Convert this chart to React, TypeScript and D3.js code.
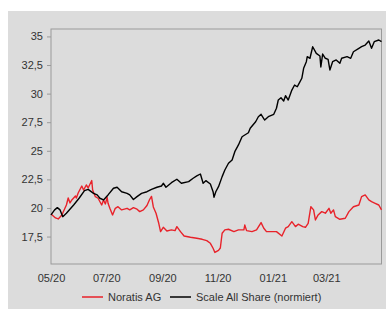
import React, { useEffect, useRef } from "react";
import * as d3 from "d3";

// Noratis AG share price (EUR)
const noratis: [string, number][] = [
  ["2020-05-01", 19.48], ["2020-05-06", 19.13], ["2020-05-09", 19.04], ["2020-05-13", 19.39],
  ["2020-05-18", 20.26], ["2020-05-20", 20.87], ["2020-05-22", 20.44], ["2020-05-24", 20.7],
  ["2020-05-28", 21.05], ["2020-05-29", 20.87], ["2020-05-31", 21.31], ["2020-06-04", 21.92],
  ["2020-06-06", 21.57], ["2020-06-09", 22.01], ["2020-06-11", 21.75], ["2020-06-15", 22.4],
  ["2020-06-16", 21.57], ["2020-06-19", 20.99], ["2020-06-22", 20.85], ["2020-06-26", 20.26],
  ["2020-06-28", 20.7], ["2020-06-30", 20.35], ["2020-07-02", 20.92], ["2020-07-03", 20.41],
  ["2020-07-05", 19.97], ["2020-07-08", 19.39], ["2020-07-11", 19.97], ["2020-07-14", 20.11],
  ["2020-07-18", 19.83], ["2020-07-24", 19.97], ["2020-07-27", 19.83], ["2020-07-31", 20.03],
  ["2020-08-04", 19.89], ["2020-08-07", 19.68], ["2020-08-11", 19.83], ["2020-08-15", 20.22],
  ["2020-08-18", 20.76], ["2020-08-20", 21.01], ["2020-08-22", 20.09], ["2020-08-25", 19.54],
  ["2020-08-28", 18.66], ["2020-08-30", 17.93], ["2020-09-02", 18.31], ["2020-09-06", 17.99],
  ["2020-09-11", 18.08], ["2020-09-15", 18.02], ["2020-09-17", 18.37], ["2020-09-21", 17.93],
  ["2020-09-25", 17.55], ["2020-10-02", 17.44], ["2020-10-09", 17.35], ["2020-10-15", 17.26],
  ["2020-10-20", 17.14], ["2020-10-24", 16.91], ["2020-10-27", 16.48], ["2020-10-29", 16.11],
  ["2020-11-02", 16.29], ["2020-11-04", 16.5], ["2020-11-06", 17.79], ["2020-11-09", 18.08],
  ["2020-11-13", 18.14], ["2020-11-19", 17.93], ["2020-11-24", 18.08], ["2020-11-30", 18.08],
  ["2020-12-01", 18.51], ["2020-12-03", 18.02], ["2020-12-09", 17.93], ["2020-12-14", 18.08],
  ["2020-12-19", 18.72], ["2020-12-22", 18.23], ["2020-12-25", 17.93], ["2020-12-31", 17.93],
  ["2021-01-05", 17.93], ["2021-01-11", 17.55], ["2021-01-15", 18.23], ["2021-01-18", 18.37],
  ["2021-01-22", 18.8], ["2021-01-26", 18.37], ["2021-01-29", 18.58], ["2021-02-03", 18.37],
  ["2021-02-06", 18.31], ["2021-02-09", 18.66], ["2021-02-12", 20.11], ["2021-02-15", 19.83],
  ["2021-02-17", 18.95], ["2021-02-20", 19.39], ["2021-02-24", 19.68], ["2021-02-28", 19.54],
  ["2021-03-04", 19.97], ["2021-03-06", 19.54], ["2021-03-09", 19.83], ["2021-03-11", 19.24],
  ["2021-03-16", 19.01], ["2021-03-22", 19.1], ["2021-03-26", 19.68], ["2021-03-31", 20.11],
  ["2021-04-06", 20.26], ["2021-04-09", 20.99], ["2021-04-13", 21.14], ["2021-04-17", 20.7],
  ["2021-04-20", 20.55], ["2021-04-24", 20.41], ["2021-04-28", 20.26], ["2021-05-01", 19.83],
];

// Scale All Share, normalised to the Noratis start price
const scaleAllShare: [string, number][] = [
  ["2020-05-01", 19.39], ["2020-05-05", 19.83], ["2020-05-08", 20.03], ["2020-05-11", 19.83],
  ["2020-05-14", 19.24], ["2020-05-18", 19.54], ["2020-05-26", 20.26], ["2020-06-01", 20.85],
  ["2020-06-07", 21.51], ["2020-06-11", 21.63], ["2020-06-17", 21.28], ["2020-06-21", 21.14],
  ["2020-06-24", 20.85], ["2020-06-28", 20.7], ["2020-07-03", 21.14], ["2020-07-09", 21.72],
  ["2020-07-13", 21.81], ["2020-07-18", 21.42], ["2020-07-24", 21.28], ["2020-07-27", 21.14],
  ["2020-07-31", 20.74], ["2020-08-04", 20.99], ["2020-08-09", 21.28], ["2020-08-15", 21.42],
  ["2020-08-20", 21.63], ["2020-08-26", 21.81], ["2020-08-31", 21.92], ["2020-09-02", 22.16],
  ["2020-09-05", 21.81], ["2020-09-11", 22.21], ["2020-09-17", 22.51], ["2020-09-22", 22.16],
  ["2020-09-30", 22.3], ["2020-10-05", 22.6], ["2020-10-09", 22.8], ["2020-10-13", 22.97],
  ["2020-10-16", 22.16], ["2020-10-19", 22.39], ["2020-10-24", 22.1], ["2020-10-27", 21.42],
  ["2020-10-28", 20.94], ["2020-10-30", 21.42], ["2020-11-02", 21.86], ["2020-11-06", 22.74],
  ["2020-11-09", 23.32], ["2020-11-13", 23.91], ["2020-11-17", 24.2], ["2020-11-20", 24.92],
  ["2020-11-24", 25.51], ["2020-11-28", 26.23], ["2020-12-01", 26.38], ["2020-12-05", 26.58],
  ["2020-12-07", 26.97], ["2020-12-13", 27.54], ["2020-12-16", 27.98], ["2020-12-19", 28.19],
  ["2020-12-23", 27.69], ["2020-12-27", 27.98], ["2021-01-02", 28.19], ["2021-01-05", 28.72],
  ["2021-01-07", 29.44], ["2021-01-10", 29.64], ["2021-01-13", 29.35], ["2021-01-15", 29.82],
  ["2021-01-18", 29.44], ["2021-01-22", 30.31], ["2021-01-25", 30.75], ["2021-01-28", 30.6],
  ["2021-01-30", 30.9], ["2021-02-02", 31.34], ["2021-02-04", 32.21], ["2021-02-07", 32.79],
  ["2021-02-08", 33.23], ["2021-02-11", 33.09], ["2021-02-14", 34.1], ["2021-02-18", 33.52],
  ["2021-02-22", 33.29], ["2021-02-23", 32.33], ["2021-02-25", 33.46], ["2021-02-28", 33.09],
  ["2021-03-03", 33.0], ["2021-03-05", 32.07], ["2021-03-08", 32.79], ["2021-03-12", 32.94],
  ["2021-03-16", 32.65], ["2021-03-18", 33.09], ["2021-03-24", 33.23], ["2021-03-28", 33.09],
  ["2021-03-31", 33.66], ["2021-04-06", 33.96], ["2021-04-09", 34.1], ["2021-04-13", 34.25],
  ["2021-04-17", 34.6], ["2021-04-20", 33.96], ["2021-04-23", 34.54], ["2021-04-28", 34.69],
  ["2021-05-01", 34.54],
];

const yTicks = [17.5, 20, 22.5, 25, 27.5, 30, 32.5, 35];
const xTicks = ["2020-05-01", "2020-07-01", "2020-09-01", "2020-11-01", "2021-01-01", "2021-03-01"];
const seriesNames = ["Noratis AG", "Scale All Share (normiert)"];
const seriesColors = ["#e8222a", "#000000"];

const W = 386;
const H = 309;
const FONT = "'Liberation Sans', Arial, sans-serif";

export default function App() {
  const ref = useRef<SVGSVGElement>(null);

  useEffect(() => {
    const svg = d3.select(ref.current);
    svg.selectAll("*").remove();

    const parse = d3.timeParse("%Y-%m-%d");
    const fmtDe = d3.format(",.1f");

    const left = 51;
    const right = 381.5;
    const top = 29;
    const bottom = 264;

    const x = d3
      .scaleTime()
      .domain([parse("2020-05-01")!, parse("2021-05-01")!])
      .range([left, right]);
    const y = d3.scaleLinear().domain([15.1, 35.65]).range([bottom, top]);

    // background
    svg
      .append("rect")
      .attr("x", 8)
      .attr("y", 11)
      .attr("width", W - 8)
      .attr("height", H - 11)
      .attr("fill", "#dcdcdc");

    // plot frame
    svg
      .append("rect")
      .attr("x", left)
      .attr("y", top)
      .attr("width", right - left)
      .attr("height", bottom - top)
      .attr("fill", "none")
      .attr("stroke", "#9a9a9a")
      .attr("stroke-width", 1);

    // y axis
    const yAxis = svg
      .append("g")
      .attr("transform", `translate(${left},0)`)
      .call(
        d3
          .axisLeft(y)
          .tickValues(yTicks)
          .tickSize(4)
          .tickPadding(4)
          .tickFormat((d) => {
            const v = d as number;
            return Number.isInteger(v) ? String(v) : fmtDe(v).replace(".", ",");
          })
      );
    yAxis.select(".domain").remove();
    yAxis.selectAll(".tick line").attr("stroke", "#9a9a9a");
    yAxis
      .selectAll("text")
      .style("font-family", FONT)
      .style("font-size", "11px")
      .attr("fill", "#333");

    // x axis labels
    const xAxis = svg
      .append("g")
      .attr("transform", `translate(0,${bottom})`)
      .call(
        d3
          .axisBottom(x)
          .tickValues(xTicks.map((s) => parse(s)!))
          .tickSize(0)
          .tickPadding(10)
          .tickFormat((d) => d3.timeFormat("%m/%y")(d as Date))
      );
    xAxis.select(".domain").remove();
    xAxis
      .selectAll("text")
      .style("font-family", FONT)
      .style("font-size", "11px")
      .attr("fill", "#333");

    const line = d3
      .line<[string, number]>()
      .x((d) => x(parse(d[0])!))
      .y((d) => y(d[1]));

    [noratis, scaleAllShare].forEach((data, i) => {
      svg
        .append("path")
        .datum(data)
        .attr("d", line)
        .attr("fill", "none")
        .attr("stroke", seriesColors[i])
        .attr("stroke-width", 1.4)
        .attr("stroke-linejoin", "round");
    });

    // legend
    const legendY = 297;
    const legendX = [82, 170];
    seriesNames.forEach((name, i) => {
      const g = svg.append("g").attr("transform", `translate(${legendX[i]},${legendY})`);
      g.append("line")
        .attr("x1", 0)
        .attr("x2", 21)
        .attr("y1", 0)
        .attr("y2", 0)
        .attr("stroke", seriesColors[i])
        .attr("stroke-width", 1.5);
      g.append("text")
        .attr("x", 26)
        .attr("y", 0)
        .attr("dy", "0.35em")
        .style("font-family", FONT)
        .style("font-size", "11px")
        .attr("fill", "#333")
        .text(name);
    });
  }, []);

  return (
    <div style={{ position: "absolute", left: 0, top: 0 }}>
      <svg ref={ref} width={W} height={H} style={{ display: "block" }} />
    </div>
  );
}
